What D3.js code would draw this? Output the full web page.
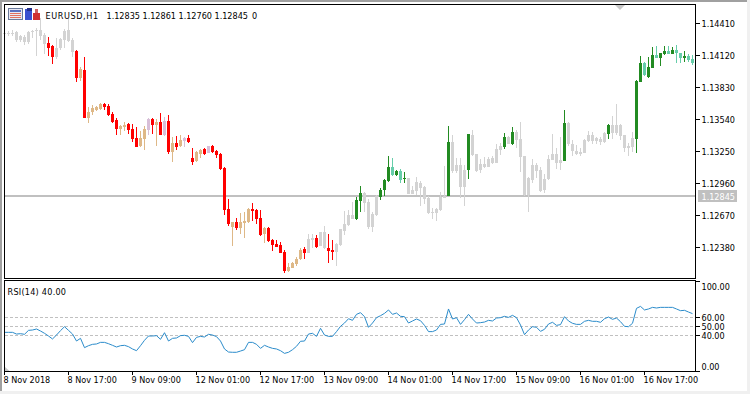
<!DOCTYPE html>
<html>
<head>
<meta charset="utf-8">
<script src="https://cdn.jsdelivr.net/npm/d3@7"></script>
<style>
html, body { margin: 0; padding: 0; background: #fff; overflow: hidden; }
svg { display: block; }
text { font-family: "DejaVu Sans Condensed", "Liberation Sans", sans-serif; font-size: 9px; fill: #000; }
.candles rect, .candles line, .frame, .axis line, .band, .deco { shape-rendering: crispEdges; }
</style>
</head>
<body>
<svg width="750" height="394"></svg>
<script>
// bars 8 Nov 01:00 .. 16 Nov, H1
var opens = [1.14324,1.14324,1.14315,1.14334,1.14261,1.14288,1.14243,1.14334,1.14343,1.14352,
1.14306,1.14234,1.14207,1.14107,1.14189,1.14261,1.14352,1.14261,1.14161,1.13917,
1.13989,1.13554,1.13608,1.13627,1.13636,1.13681,1.13663,1.13590,1.13536,1.13454,
1.13473,1.13500,1.13454,1.13373,1.13300,1.13364,1.13445,1.13545,1.13491,1.13518,
1.13400,1.13527,1.13246,1.13328,1.13300,1.13346,1.13373,1.13192,1.13164,1.13228,
1.13273,1.13237,1.13300,1.13255,1.13228,1.13101,1.12729,1.12566,1.12612,1.12557,
1.12603,1.12612,1.12729,1.12720,1.12648,1.12503,1.12557,1.12448,1.12412,1.12403,
1.12340,1.12168,1.12195,1.12231,1.12276,1.12367,1.12331,1.12448,1.12467,1.12394,
1.12521,1.12376,1.12358,1.12340,1.12403,1.12530,1.12584,1.12639,1.12639,1.12802,
1.12874,1.12793,1.12566,1.12675,1.12838,1.12902,1.12983,1.13110,1.13038,1.13074,
1.13001,1.13010,1.12865,1.12893,1.12965,1.12929,1.12829,1.12693,1.12693,1.12720,
1.12829,1.12847,1.13337,1.13074,1.13128,1.12929,1.13083,1.13400,1.13228,1.13083,
1.13137,1.13110,1.13146,1.13146,1.13264,1.13291,1.13382,1.13318,1.13427,1.13364,
1.13210,1.12856,1.12992,1.13128,1.13083,1.12902,1.13001,1.13173,1.13228,1.13146,
1.13164,1.13509,1.13318,1.13255,1.13228,1.13237,1.13346,1.13400,1.13346,1.13364,
1.13337,1.13409,1.13491,1.13418,1.13491,1.13400,1.13282,1.13291,1.13364,1.13880,
1.14053,1.13926,1.14007,1.14125,1.14098,1.14134,1.14161,1.14134,1.14170,1.14143,
1.14098,1.14116,1.14089];

var highs = [1.14352,1.14343,1.14352,1.14343,1.14306,1.14306,1.14343,1.14352,1.14370,1.14460,
1.14324,1.14288,1.14216,1.14279,1.14279,1.14361,1.14460,1.14279,1.14170,1.14016,
1.14107,1.13654,1.13672,1.13663,1.13690,1.13690,1.13681,1.13608,1.13554,1.13491,
1.13518,1.13509,1.13500,1.13473,1.13436,1.13482,1.13554,1.13554,1.13545,1.13599,
1.13563,1.13581,1.13382,1.13391,1.13400,1.13382,1.13400,1.13282,1.13255,1.13273,
1.13282,1.13300,1.13309,1.13264,1.13237,1.13110,1.12820,1.12612,1.12648,1.12693,
1.12702,1.12738,1.12784,1.12729,1.12720,1.12566,1.12566,1.12458,1.12448,1.12430,
1.12358,1.12240,1.12249,1.12294,1.12376,1.12385,1.12503,1.12503,1.12494,1.12521,
1.12575,1.12503,1.12448,1.12421,1.12548,1.12711,1.12720,1.12793,1.12838,1.12938,
1.12883,1.12820,1.12702,1.12856,1.12920,1.13001,1.13210,1.13192,1.13083,1.13092,
1.13065,1.13010,1.12938,1.13019,1.12983,1.12938,1.12847,1.12738,1.12738,1.12883,
1.13119,1.13482,1.13400,1.13192,1.13192,1.13128,1.13409,1.13445,1.13228,1.13183,
1.13201,1.13201,1.13210,1.13318,1.13328,1.13418,1.13391,1.13473,1.13445,1.13518,
1.13210,1.13019,1.13183,1.13146,1.13110,1.13047,1.13219,1.13409,1.13282,1.13382,
1.13627,1.13518,1.13355,1.13309,1.13282,1.13364,1.13436,1.13427,1.13382,1.13382,
1.13427,1.13500,1.13572,1.13681,1.13500,1.13400,1.13328,1.13427,1.13898,1.14116,
1.14062,1.14107,1.14198,1.14207,1.14143,1.14207,1.14207,1.14198,1.14216,1.14143,
1.14161,1.14134,1.14125];

var lows = [1.14288,1.14297,1.14297,1.14243,1.14243,1.14216,1.14225,1.14279,1.14116,1.14261,
1.14134,1.14116,1.14043,1.14089,1.14170,1.14189,1.14243,1.14107,1.13880,1.13889,
1.13554,1.13509,1.13581,1.13618,1.13627,1.13627,1.13572,1.13509,1.13400,1.13400,
1.13436,1.13409,1.13337,1.13291,1.13291,1.13264,1.13400,1.13409,1.13300,1.13400,
1.13391,1.13228,1.13155,1.13264,1.13291,1.13291,1.13328,1.13128,1.13155,1.13192,
1.13219,1.13237,1.13237,1.13192,1.13083,1.12675,1.12575,1.12394,1.12539,1.12503,
1.12467,1.12603,1.12621,1.12593,1.12485,1.12421,1.12430,1.12349,1.12385,1.12331,
1.12149,1.12158,1.12195,1.12213,1.12267,1.12276,1.12331,1.12376,1.12376,1.12394,
1.12367,1.12240,1.12267,1.12213,1.12394,1.12494,1.12575,1.12639,1.12630,1.12702,
1.12702,1.12548,1.12521,1.12666,1.12811,1.12847,1.12974,1.13028,1.13028,1.12965,
1.12965,1.12865,1.12865,1.12856,1.12757,1.12775,1.12684,1.12639,1.12621,1.12711,
1.12829,1.12847,1.13056,1.13056,1.12829,1.12757,1.13001,1.13210,1.13065,1.13056,
1.13101,1.13110,1.13137,1.13146,1.13219,1.13273,1.13318,1.13309,1.13282,1.13065,
1.12847,1.12702,1.12965,1.13010,1.12883,1.12874,1.12992,1.13173,1.13092,1.13083,
1.13164,1.13300,1.13210,1.13219,1.13210,1.13237,1.13337,1.13318,1.13318,1.13309,
1.13328,1.13364,1.13364,1.13400,1.13355,1.13246,1.13210,1.13246,1.13237,1.13880,
1.13935,1.13917,1.14007,1.14098,1.14025,1.14125,1.14134,1.14134,1.14053,1.14053,
1.14062,1.14062,1.14034];

var closes = [1.14315,1.14315,1.14324,1.14261,1.14297,1.14243,1.14334,1.14343,1.14352,1.14297,
1.14225,1.14189,1.14107,1.14189,1.14270,1.14343,1.14252,1.14152,1.13917,1.13998,
1.13554,1.13608,1.13645,1.13654,1.13681,1.13654,1.13581,1.13518,1.13454,1.13482,
1.13491,1.13445,1.13364,1.13291,1.13373,1.13454,1.13545,1.13491,1.13518,1.13400,
1.13527,1.13246,1.13328,1.13291,1.13355,1.13373,1.13337,1.13155,1.13246,1.13264,
1.13228,1.13300,1.13246,1.13219,1.13092,1.12720,1.12593,1.12612,1.12557,1.12612,
1.12621,1.12729,1.12711,1.12639,1.12494,1.12557,1.12439,1.12403,1.12385,1.12331,
1.12168,1.12204,1.12240,1.12276,1.12358,1.12331,1.12458,1.12467,1.12385,1.12521,
1.12376,1.12349,1.12340,1.12412,1.12548,1.12593,1.12675,1.12675,1.12811,1.12874,
1.12784,1.12566,1.12684,1.12847,1.12902,1.12992,1.13110,1.13038,1.13074,1.12992,
1.13010,1.12865,1.12902,1.12974,1.12920,1.12820,1.12693,1.12702,1.12729,1.12838,
1.12847,1.13337,1.13074,1.13128,1.12929,1.13083,1.13409,1.13219,1.13074,1.13137,
1.13110,1.13183,1.13192,1.13273,1.13300,1.13382,1.13318,1.13427,1.13355,1.13201,
1.12856,1.13010,1.13128,1.13074,1.12893,1.13001,1.13183,1.13228,1.13146,1.13173,
1.13509,1.13318,1.13255,1.13228,1.13246,1.13355,1.13400,1.13346,1.13373,1.13337,
1.13418,1.13491,1.13418,1.13491,1.13391,1.13282,1.13300,1.13373,1.13889,1.14053,
1.13944,1.14016,1.14125,1.14098,1.14143,1.14161,1.14134,1.14170,1.14143,1.14098,
1.14116,1.14080,1.14053];

// g neutral, R strong down, T weak up, P thistle, G strong up, A weak down
var barKinds = ("ggggggggggg" + "RR" + "ggggg" + "R" + "T" + "R" + "TTTT" + "RRRR" + "TT" + "RRR" + "TT" + "P" + "R" + "T" + "R" + "P" + "R" + "T" + "R" + "T" + "P" +
  "RR" + "TT" + "R" + "P" + "RRRRR" + "T" + "R" + "TTT" + "RRR" + "T" + "RRRRR" + "TTTT" + "R" + "gg" + "R" + "gg" + "RR" + "ggggg" + "GG" + "gggg" + "GGG" +
  "AGAG" + "gggggggggg" + "G" + "gggg" + "G" + "gggggggg" + "GgG" + "gggggggggggg" + "G" + "gggggggggg" + "G" + "gggggg" + "GG" + "AGGAGGAGAAGAA").split("");

var kindColors = {g: "#d3d3d3", R: "#ff0000", T: "#deb887", P: "#d8bfd8", G: "#228b22", A: "#66cdaa"};

var rsi = [43.2,43.2,43.2,41.3,41.7,41.0,45.4,45.8,46.9,44.7,
42.1,39.1,35.8,40.2,45.1,49.5,45.4,41.3,33.5,36.5,
26.1,28.3,29.8,30.2,32.0,32.0,30.5,28.7,26.8,28.3,
28.7,27.2,24.6,22.7,28.3,34.3,39.1,39.1,39.5,35.4,
42.8,33.5,36.5,36.9,39.5,39.9,38.7,31.7,37.6,38.7,
38.0,41.0,40.2,38.4,33.5,24.6,21.2,20.9,20.9,22.3,
23.8,32.0,32.0,29.8,25.3,28.7,26.8,25.3,24.6,22.7,
19.7,20.9,23.8,27.6,33.2,33.5,41.3,42.1,38.7,47.7,
40.2,38.7,38.7,44.0,49.9,53.6,58.4,56.6,63.3,65.2,
60.7,48.8,53.6,59.6,61.8,64.4,68.2,63.3,64.8,61.1,
60.7,53.6,55.9,58.1,56.2,51.0,44.0,44.0,45.8,52.1,
52.5,69.3,58.1,59.6,52.1,57.4,63.3,58.1,53.6,54.0,
54.7,56.6,55.9,59.2,59.6,61.1,59.9,62.2,59.6,51.4,
40.6,45.8,49.5,48.8,44.3,46.6,52.5,54.4,51.0,51.8,
60.7,55.9,53.3,52.1,52.1,55.5,56.6,55.5,55.5,54.4,
58.4,60.3,57.7,59.2,55.1,49.9,49.5,53.3,70.0,72.2,
68.2,69.3,71.1,70.4,71.1,71.1,71.1,71.1,69.3,67.4,
67.8,65.9,64.1];

var priceTicks = [1.14410, 1.14120, 1.13830, 1.13540, 1.13250, 1.12960, 1.12670, 1.12380];
var rsiLevels = [40, 50, 60];
var rsiTicks = [0, 40, 50, 60, 100];
var timeLabels = ["8 Nov 2018", "8 Nov 17:00", "9 Nov 09:00", "12 Nov 01:00", "12 Nov 17:00", "13 Nov 09:00",
  "14 Nov 01:00", "14 Nov 17:00", "15 Nov 09:00", "16 Nov 01:00", "16 Nov 17:00"];
var timeIndex = [0, 16, 32, 48, 64, 80, 96, 112, 128, 144, 160];
var lastPrice = 1.12845;
var headerPrices = ["1.12835", "1.12861", "1.12760", "1.12845"];
var headerVolume = "0";

var svg = d3.select("svg"),
    plot = {left: 4.5, right: 695.5, top: 4.5, bottom: 278.5},
    sub = {top: 280.5, bottom: 371.5};

var xScale = d3.scaleLinear().domain([0, 172]).range([4.5, 692.5]),
    yScale = d3.scaleLinear().domain([1.14120, 1.12380]).range([55.5, 247.5]),
    rsiScale = d3.scaleLinear().domain([0, 100]).range([371, 281.5]);

// window edges
svg.append("rect").attr("class", "deco").attr("x", 0).attr("y", 0).attr("width", 750).attr("height", 2).attr("fill", "#a0a0a0");
svg.append("rect").attr("class", "deco").attr("x", 0).attr("y", 0).attr("width", 2).attr("height", 394).attr("fill", "#a0a0a0");
svg.append("rect").attr("class", "deco").attr("x", 747).attr("y", 0).attr("width", 3).attr("height", 394).attr("fill", "#f0f0f0");
svg.append("rect").attr("class", "deco").attr("x", 0).attr("y", 391).attr("width", 750).attr("height", 3).attr("fill", "#f0f0f0");

// last price line goes under the candles
svg.append("line")
    .attr("class", "deco")
    .attr("x1", plot.left).attr("x2", plot.right)
    .attr("y1", yScale(lastPrice)).attr("y2", yScale(lastPrice))
    .attr("stroke", "#c0c0c0").attr("stroke-width", 2);

var candles = svg.append("g").attr("class", "candles");

candles.selectAll("line")
    .data(barKinds)
    .enter()
    .append("line")
        .attr("x1", function (d, i) { return xScale(i); })
        .attr("x2", function (d, i) { return xScale(i); })
        .attr("y1", function (d, i) { return yScale(highs[i]); })
        .attr("y2", function (d, i) { return yScale(lows[i]); })
        .attr("stroke", function (d) { return kindColors[d]; });

candles.selectAll("rect")
    .data(barKinds)
    .enter()
    .append("rect")
        .attr("x", function (d, i) { return xScale(i) - 1.5; })
        .attr("width", 3)
        .attr("y", function (d, i) { return yScale(Math.max(opens[i], closes[i])); })
        .attr("height", function (d, i) { return Math.max(1, Math.abs(yScale(opens[i]) - yScale(closes[i]))); })
        .attr("fill", function (d) { return kindColors[d]; });

// rsi panel
svg.selectAll(".band")
    .data(rsiLevels)
    .enter()
    .append("line")
        .attr("class", "band")
        .attr("x1", plot.left).attr("x2", plot.right)
        .attr("y1", function (d) { return rsiScale(d); })
        .attr("y2", function (d) { return rsiScale(d); })
        .attr("stroke", "#c0c0c0")
        .attr("stroke-dasharray", "3,2");

svg.append("path")
    .datum(rsi)
    .attr("fill", "none")
    .attr("stroke", "#2b8ccb")
    .attr("stroke-width", 1)
    .attr("d", d3.line()
        .x(function (d, i) { return xScale(i); })
        .y(function (d) { return rsiScale(d); }));

// frames
svg.append("rect").attr("class", "frame")
    .attr("x", plot.left).attr("y", plot.top)
    .attr("width", plot.right - plot.left).attr("height", plot.bottom - plot.top)
    .attr("fill", "none").attr("stroke", "#000");
svg.append("rect").attr("class", "frame")
    .attr("x", plot.left).attr("y", sub.top)
    .attr("width", plot.right - plot.left).attr("height", sub.bottom - sub.top)
    .attr("fill", "none").attr("stroke", "#000");

// axes
var priceAxis = svg.append("g")
    .attr("class", "axis")
    .attr("transform", "translate(" + plot.right + ",0)")
    .call(d3.axisRight(yScale).tickValues(priceTicks).tickFormat(d3.format(".5f")).tickSize(4).tickPadding(2).offset(0));
priceAxis.select(".domain").remove();
priceAxis.selectAll("text").attr("dy", "0.42em");

var rsiAxis = svg.append("g")
    .attr("class", "axis")
    .attr("transform", "translate(" + plot.right + ",0)")
    .call(d3.axisRight(rsiScale).tickValues(rsiTicks).tickFormat(d3.format(".2f")).tickSize(4).tickPadding(2).offset(0));
rsiAxis.select(".domain").remove();
// end labels are pushed inside the panel
rsiAxis.selectAll("text").attr("dy", "0.42em").attr("transform", function (d) {
    return "translate(0," + (d == 100 ? 4.5 : d == 0 ? -5 : 0) + ")";
});

var timeAxis = svg.append("g")
    .attr("class", "axis")
    .attr("transform", "translate(0," + sub.bottom + ")")
    .call(d3.axisBottom(xScale).tickValues(timeIndex)
        .tickFormat(function (d, i) { return timeLabels[i]; })
        .tickSize(3).tickPadding(2).offset(0));
timeAxis.select(".domain").remove();
timeAxis.selectAll("text").attr("text-anchor", "start").attr("x", -1);

// last price tag
svg.append("rect")
    .attr("class", "deco")
    .attr("x", 698).attr("width", 39)
    .attr("y", yScale(lastPrice) - 6).attr("height", 12)
    .attr("fill", "#c0c0c0");
svg.append("text")
    .attr("x", 701.5)
    .attr("y", yScale(lastPrice) + 3.5)
    .style("fill", "#fff")
    .text(d3.format(".5f")(lastPrice));

// header
svg.append("text").attr("x", 45.5).attr("y", 18.5).style("letter-spacing", "0.6px").text("EURUSD,H1");
svg.selectAll(".quote")
    .data(headerPrices)
    .enter()
    .append("text")
        .attr("class", "quote")
        .attr("x", function (d, i) { return 106.5 + i * 36; })
        .attr("y", 18.5)
        .text(function (d) { return d; });
svg.append("text").attr("x", 252).attr("y", 18.5).text(headerVolume);
svg.append("text").attr("x", 7.5).attr("y", 294.5).style("letter-spacing", "0.25px").text("RSI(14) 40.00");

// toolbar icons
var icons = svg.append("g").attr("class", "deco");
icons.append("rect").attr("x", 8.5).attr("y", 8.5).attr("width", 14).attr("height", 11).attr("fill", "#e8e8f4").attr("stroke", "#6a7a9a");
icons.append("rect").attr("x", 10).attr("y", 10).attr("width", 11).attr("height", 2).attr("fill", "#5a6fc0");
icons.append("rect").attr("x", 10).attr("y", 13).attr("width", 11).attr("height", 1).attr("fill", "#e07060");
icons.append("rect").attr("x", 10).attr("y", 15).attr("width", 11).attr("height", 1).attr("fill", "#e07060");
icons.append("rect").attr("x", 10).attr("y", 17).attr("width", 11).attr("height", 1).attr("fill", "#e07060");
icons.append("rect").attr("x", 25).attr("y", 9).attr("width", 7).attr("height", 11).attr("fill", "#3a50d0");
icons.append("rect").attr("x", 27).attr("y", 8).attr("width", 5).attr("height", 3).attr("fill", "#24308a");
icons.append("rect").attr("x", 33).attr("y", 13).attr("width", 7).attr("height", 7).attr("fill", "#d03030");
icons.append("rect").attr("x", 35).attr("y", 9).attr("width", 3).attr("height", 4).attr("fill", "#d06060");

// small markers on the frame
svg.append("path").attr("d", d3.line()([[615, 5], [625, 5], [620, 10]])).attr("fill", "#c8c8c8");
svg.append("path").attr("d", d3.line()([[5, 367], [5, 371], [9.5, 371]])).attr("fill", "#c8c8c8");
</script>
</body>
</html>
